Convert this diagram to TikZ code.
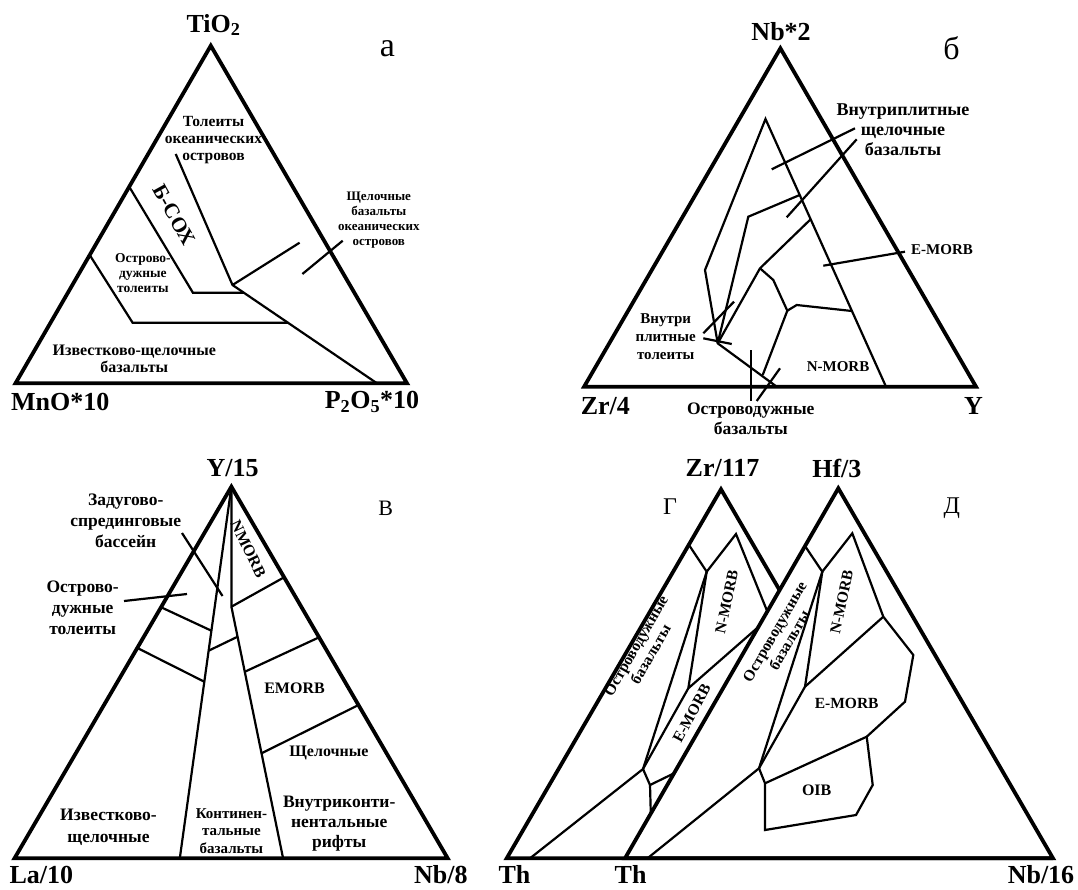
\documentclass[tikz,border=0pt]{standalone}
\usepackage{fontspec}
\setmainfont{Liberation Serif}
\begin{document}
\begin{tikzpicture}[x=1pt,y=-1pt,
  frame/.style={line width=3.8pt,line join=miter},
  fld/.style={line width=2.2pt,line join=miter},
  ax/.style={font=\bfseries\fontsize{26}{28}\selectfont,inner sep=0pt},
  pl/.style={font=\fontsize{#1}{#1}\selectfont,inner sep=0pt},
  lb/.style 2 args={font=\bfseries\fontsize{#1}{#2}\selectfont,align=center,inner sep=0pt}]
\useasboundingbox[fill=white] (0,0) rectangle (1078,889);

% ================= panel a =================
\coordinate (aT) at (210.8,45.7);
\coordinate (aL) at (15.5,383.3);
\coordinate (aR) at (407,383.3);
\coordinate (a1) at (175.7,154);
\coordinate (a2) at (232.5,285);
\coordinate (a3) at (377,383.3);
\coordinate (a4) at (129.2,186.7);
\coordinate (a5) at (192.9,292.7);
\coordinate (a6) at (243.9,292.7);
\coordinate (a7) at (89.7,255);
\coordinate (a8) at (132.6,322.7);
\coordinate (a9) at (288.3,322.7);
\coordinate (a10) at (299.6,242.7);
\coordinate (a11) at (302.4,274);
\coordinate (a12) at (342.7,240.7);
\draw[frame] (aT) -- (aL) -- (aR) -- cycle;
\draw[fld] (a1) -- (a2) -- (a3);
\draw[fld] (a4) -- (a5) -- (a6);
\draw[fld] (a7) -- (a8) -- (a9);
\draw[fld] (a2) -- (a10);
\draw[fld] (a11) -- (a12);
\node[ax] (aTl) at (213.5,25) {TiO\textsubscript{2}};
\node[ax] (aLl) at (60.3,402) {MnO*10};
\node[ax] (aRl) at (372,402) {P\textsubscript{2}O\textsubscript{5}*10};
\node[pl=34] (aLet) at (387.5,49) {а};
\node[lb={15.5}{17}] (aTol) at (213.5,140) {Толеиты\\океанических\\островов};
\node[lb={21}{22},rotate=-61] (aBsox) at (173.9,215) {Б-СОХ};
\node[lb={13.5}{15}] (aOst) at (142.9,273.5) {Острово-\\дужные\\толеиты};
\node[lb={13}{15}] (aShch) at (378.8,220.5) {Щелочные\\базальты\\океанических\\островов};
\node[lb={16}{17}] (aIzv) at (134.3,358.5) {Известково-щелочные\\базальты};

% ================= panel b =================
\coordinate (bT) at (780.4,48.3);
\coordinate (bL) at (584.1,386.7);
\coordinate (bR) at (976,386.7);
\coordinate (bA) at (765.5,119);
\coordinate (bB) at (705,270);
\coordinate (bC) at (717.7,343.3);
\coordinate (bBot) at (776.7,386.7);
\coordinate (bInR) at (886,386.7);
\coordinate (bK1) at (748.3,216.7);
\coordinate (bK2) at (799.7,195);
\coordinate (bD) at (760,268.3);
\coordinate (bE) at (810.6,219.3);
\coordinate (bF) at (773.3,280);
\coordinate (bG) at (787.3,310.7);
\coordinate (bH) at (796.7,305);
\coordinate (bI) at (851.9,311);
\coordinate (bJ) at (762.7,375);
\draw[frame] (bT) -- (bL) -- (bR) -- cycle;
\draw[fld] (bInR) -- (bA) -- (bB) -- (bC) -- (bBot);
\draw[fld] (bC) -- (bK1) -- (bK2);
\draw[fld] (bC) -- (bD) -- (bE);
\draw[fld] (bD) -- (bF) -- (bG) -- (bH) -- (bI);
\draw[fld] (bG) -- (bJ);
\coordinate (bt1a) at (751,350); \coordinate (bt1b) at (751,401);
\coordinate (bt2a) at (780,368.3); \coordinate (bt2b) at (756.7,401);
\coordinate (bt3a) at (734,301.7); \coordinate (bt3b) at (703.3,333.3);
\coordinate (bt4a) at (703.3,338.3); \coordinate (bt4b) at (731.7,344);
\coordinate (bl1a) at (771.7,169.3); \coordinate (bl1b) at (855,128.3);
\coordinate (bl2a) at (786.7,217.3); \coordinate (bl2b) at (856.7,139.3);
\coordinate (bl3a) at (823.3,265.7); \coordinate (bl3b) at (905,251.7);
\draw[fld] (bt1a) -- (bt1b);
\draw[fld] (bt2a) -- (bt2b);
\draw[fld] (bt3a) -- (bt3b);
\draw[fld] (bt4a) -- (bt4b);
\draw[fld] (bl1a) -- (bl1b);
\draw[fld] (bl2a) -- (bl2b);
\draw[fld] (bl3a) -- (bl3b);
\node[ax] (bTl) at (781.1,31.7) {Nb*2};
\node[ax] (bLl) at (605.4,406) {Zr/4};
\node[ax] (bRl) at (973.5,406) {Y};
\node[pl=32] (bLet) at (951.6,48) {б};
\node[lb={18}{20}] (bVnpl) at (903,130) {Внутриплитные\\щелочные\\базальты};
\node[lb={15}{17}] (bEm) at (942,250) {E-MORB};
\node[lb={15}{17}] (bNm) at (838,366.7) {N-MORB};
\node[lb={15}{18}] (bVnt) at (665.7,336.7) {Внутри\\плитные\\толеиты};
\node[lb={17.5}{20}] (bOst) at (750.8,418.3) {Островодужные\\базальты};

% ================= panel v =================
\coordinate (vT) at (231.4,486.7);
\coordinate (vL) at (14.5,858.3);
\coordinate (vR) at (447.7,858.3);
\coordinate (vLC) at (179.8,858.3);
\coordinate (vK) at (231.4,606.7);
\coordinate (vRC) at (283.1,858.3);
\coordinate (v1b) at (284.1,577.3);
\coordinate (v2a) at (244.9,671.7);
\coordinate (v2b) at (319.1,637.3);
\coordinate (v3a) at (261.5,753.3);
\coordinate (v3b) at (358.5,705);
\coordinate (v4a) at (161.2,607.3);
\coordinate (v4b) at (211.4,630.7);
\coordinate (v5a) at (138,648.3);
\coordinate (v5b) at (204.3,681.7);
\coordinate (v6a) at (208.6,650.7);
\coordinate (v6b) at (237.6,636.7);
\coordinate (vl1a) at (124,601); \coordinate (vl1b) at (187,594);
\coordinate (vl2a) at (182,533); \coordinate (vl2b) at (222.5,596);
\draw[frame] (vT) -- (vL) -- (vR) -- cycle;
\draw[fld] (vT) -- (vLC);
\draw[fld] (vT) -- (vK) -- (vRC);
\draw[fld] (vK) -- (v1b);
\draw[fld] (v2a) -- (v2b);
\draw[fld] (v3a) -- (v3b);
\draw[fld] (v4a) -- (v4b);
\draw[fld] (v5a) -- (v5b);
\draw[fld] (v6a) -- (v6b);
\draw[fld] (vl1a) -- (vl1b);
\draw[fld] (vl2a) -- (vl2b);
\node[ax] (vTl) at (232.5,468.3) {Y/15};
\node[ax] (vLl) at (41.3,874.5) {La/10};
\node[ax] (vRl) at (440.8,874.5) {Nb/8};
\node[pl=22] (vLet) at (385.7,508.3) {В};
\node[lb={17.5}{21}] (vZad) at (125.7,521) {Задугово-\\спрединговые\\бассейн};
\node[lb={17.5}{21}] (vOst) at (82.7,607.8) {Острово-\\дужные\\толеиты};
\node[lb={16}{17},rotate=-64] (vNm) at (248.3,549) {NMORB};
\node[lb={16}{17}] (vEm) at (294.5,688.3) {EMORB};
\node[lb={16}{17}] (vSh) at (328.9,753.3) {Щелочные};
\node[lb={17.5}{20}] (vVk) at (339.2,823.3) {Внутриконти-\\нентальные\\рифты};
\node[lb={17.5}{21.5}] (vIzv) at (108.5,827.5) {Известково-\\щелочные};
\node[lb={15}{17.5}] (vKont) at (231.4,831) {Континен-\\тальные\\базальты};

% ================= panels g and d =================
\coordinate (gT) at (721,489.3);
\coordinate (gL) at (506.7,858.3);
\coordinate (gRf) at (935.3,858.3);
\coordinate (dT) at (838.3,488.3);
\coordinate (dL) at (625,858.3);
\coordinate (dR) at (1053,858.3);
\coordinate (gX) at (intersection of gT--gRf and dL--dT);
% g internals
\coordinate (g1) at (689,545);
\coordinate (gP) at (706.7,571.7);
\coordinate (gN) at (736,534);
\coordinate (gN2) at (767.3,611.5);
\coordinate (gQ) at (688.3,688.3);
\coordinate (gQ2) at (758.3,627);
\coordinate (gV) at (643,769);
\coordinate (gTh) at (530,858.3);
\coordinate (gXp) at (650,785);
\coordinate (gX2) at (674,773.3);
\coordinate (gX3) at (650.8,813.5);
% d internals
\coordinate (d1) at (805,546);
\coordinate (dP) at (822.3,571.7);
\coordinate (dN) at (852.3,533.3);
\coordinate (dE1) at (883.3,616.7);
\coordinate (dE2) at (913.3,655);
\coordinate (dE3) at (905,701.7);
\coordinate (dE4) at (866.7,736.7);
\coordinate (dO1) at (872.7,785);
\coordinate (dO2) at (856,815);
\coordinate (dO3) at (765,830);
\coordinate (dO4) at (765,783.3);
\coordinate (dQ) at (805,686.7);
\coordinate (dV) at (759,768.3);
\coordinate (dTh) at (647.5,858.3);
\draw[frame] (gX) -- (gT) -- (gL) -- (dR);
\draw[fld] (g1) -- (gP) -- (gN) -- (gN2);
\draw[fld] (gP) -- (gQ) -- (gQ2);
\draw[fld] (gQ) -- (gV);
\draw[fld] (gP) -- (gV);
\draw[fld] (gTh) -- (gV) -- (gXp) -- (gX2);
\draw[fld] (gXp) -- (gX3);
\draw[fld] (d1) -- (dP) -- (dN) -- (dE1) -- (dE2) -- (dE3) -- (dE4) -- (dO1) -- (dO2) -- (dO3) -- (dO4) -- (dV);
\draw[fld] (dE4) -- (dO4);
\draw[fld] (dE1) -- (dQ) -- (dV);
\draw[fld] (dP) -- (dQ);
\draw[fld] (dP) -- (dV);
\draw[fld] (dTh) -- (dV);
\draw[frame] (dL) -- (dT) -- (dR) -- cycle;
\node[ax] (gTl) at (722.5,468.3) {Zr/117};
\node[ax] (dTl) at (836.9,468.3) {Hf/3};
\node[ax] (gLl) at (514.4,874.5) {Th};
\node[ax] (dLl) at (630.6,874.5) {Th};
\node[ax] (dRl) at (1041,874.5) {Nb/16};
\node[pl=24] (gLet) at (670,506.7) {Г};
\node[pl=24] (dLet) at (951.7,508.3) {Д};
\node[lb={15.5}{17},rotate=60] (gOst) at (643.3,650) {Островодужные\\базальты};
\node[lb={15.5}{17},rotate=78] (gNm) at (726.7,601.7) {N-MORB};
\node[lb={15.5}{17},rotate=62] (gEm) at (691.7,713.3) {E-MORB};
\node[lb={15.5}{17},rotate=60] (dOst) at (782,636) {Островодужные\\базальты};
\node[lb={15.5}{17},rotate=78] (dNm) at (841.7,601.7) {N-MORB};
\node[lb={15.5}{17}] (dEm) at (846.7,703.3) {E-MORB};
\node[lb={16}{17}] (dOib) at (816.7,790) {OIB};
\end{tikzpicture}
\end{document}
